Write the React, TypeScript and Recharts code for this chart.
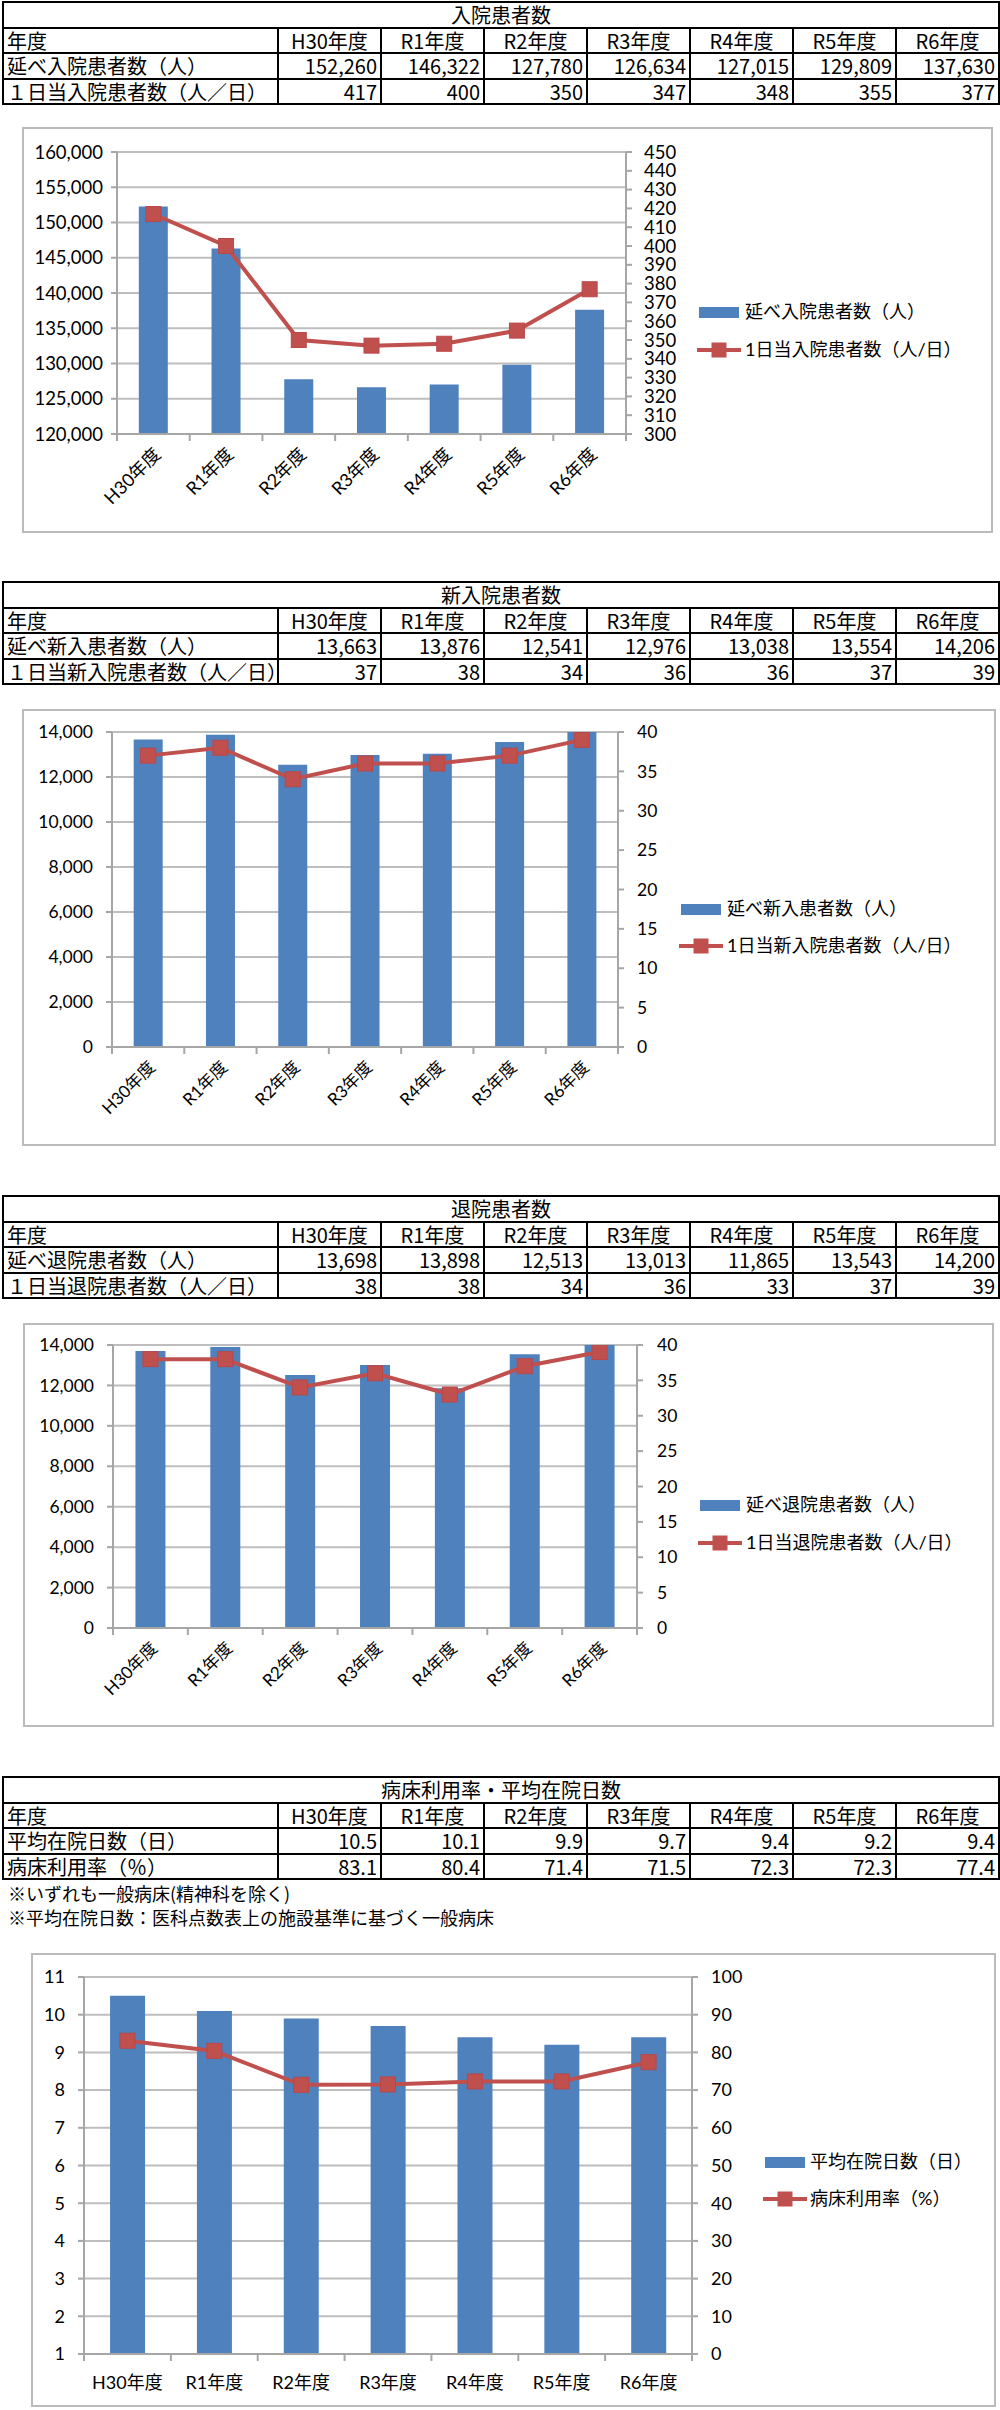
import React from "react";
import { Bar, CartesianGrid, ComposedChart, Line, XAxis, YAxis } from "recharts";

// ---- data ----
const years = ["H30年度", "R1年度", "R2年度", "R3年度", "R4年度", "R5年度", "R6年度"];

const inpatientTotal = [152260, 146322, 127780, 126634, 127015, 129809, 137630];
const inpatientDaily = [417, 400, 350, 347, 348, 355, 377];

const admissionTotal = [13663, 13876, 12541, 12976, 13038, 13554, 14206];
const admissionDaily = [37, 38, 34, 36, 36, 37, 39];

const dischargeTotal = [13698, 13898, 12513, 13013, 11865, 13543, 14200];
const dischargeDaily = [38, 38, 34, 36, 33, 37, 39];

const averageStay = [10.5, 10.1, 9.9, 9.7, 9.4, 9.2, 9.4];
const bedOccupancy = [83.1, 80.4, 71.4, 71.5, 72.3, 72.3, 77.4];

const inpatientLeftTicks = [120000, 125000, 130000, 135000, 140000, 145000, 150000, 155000, 160000];
const inpatientRightTicks = [300, 310, 320, 330, 340, 350, 360, 370, 380, 390, 400, 410, 420, 430, 440, 450];
const countLeftTicks = [0, 2000, 4000, 6000, 8000, 10000, 12000, 14000];
const countRightTicks = [0, 5, 10, 15, 20, 25, 30, 35, 40];
const stayLeftTicks = [1, 2, 3, 4, 5, 6, 7, 8, 9, 10, 11];
const stayRightTicks = [0, 10, 20, 30, 40, 50, 60, 70, 80, 90, 100];

const notes = ["※いずれも一般病床(精神科を除く)", "※平均在院日数：医科点数表上の施設基準に基づく一般病床"];

// ---- styles ----
const BLUE = "#4F81BD";
const RED = "#C0504D";
const GRID = "#BEBEBE";
const AXIS = "#A6A6A6";
const FRAME = "#BBBBBB";
const CJK = "'Noto Sans CJK JP', sans-serif";
const NUM = "Lato, 'Noto Sans CJK JP', sans-serif";

type Rect = { left: number; top: number; right: number; bottom: number };

interface ComboProps {
  box: Rect;
  plot: Rect;
  totals: number[];
  dailies: number[];
  leftDomain: [number, number];
  leftTicks: number[];
  rightDomain: [number, number];
  rightTicks: number[];
  fontSize: number;
  labelSize: number;
  leftGap: number;
  rightGap: number;
  rotate: boolean;
  names: [string, string];
  legend: { x: number; y1: number; y2: number; textX: number };
}

const fmt = (v: number) => v.toLocaleString("en-US");

function SquareDot(props: any) {
  const { cx, cy, index } = props;
  if (cx == null || cy == null) return <g key={`d${index}`} />;
  return <rect key={`d${index}`} x={cx - 7.5} y={cy - 7.5} width={15} height={15} fill={RED} stroke="#B9474A" strokeWidth={1} />;
}

function ComboChart(p: ComboProps) {
  const w = p.box.right - p.box.left;
  const h = p.box.bottom - p.box.top;
  const yl = 50;
  const yr = 60;
  const xh = 40;
  const margin = {
    top: p.plot.top - p.box.top,
    left: p.plot.left - p.box.left - yl,
    right: p.box.right - p.plot.right - yr,
    bottom: p.box.bottom - p.plot.bottom - xh
  };
  const n = years.length;
  const band = (p.plot.right - p.plot.left) / n;
  const axisY = p.plot.bottom - p.box.top;
  const data = years.map((year, i) => ({ year, total: p.totals[i], daily: p.dailies[i] }));

  // ticks sit between categories, like the spreadsheet chart
  const renderTick = (props: any) => {
    const { x, payload, index } = props;
    const last = index === n - 1;
    const ax = x + 4;
    const ay = axisY + 17;
    return (
      <g>
        <line x1={x - band / 2} x2={x - band / 2} y1={axisY} y2={axisY + 7} stroke={AXIS} strokeWidth={2} />
        {last && <line x1={x + band / 2} x2={x + band / 2} y1={axisY} y2={axisY + 7} stroke={AXIS} strokeWidth={2} />}
        {p.rotate ? (
          <text x={ax} y={ay} dy="0.35em" textAnchor="end" transform={`rotate(-45, ${ax}, ${ay})`} fontSize={p.labelSize} fontFamily={NUM} fill="#000">
            {payload.value}
          </text>
        ) : (
          <text x={x} y={axisY + 29} dy="0.35em" textAnchor="middle" fontSize={p.labelSize} fontFamily={NUM} fill="#000">
            {payload.value}
          </text>
        )}
      </g>
    );
  };

  const tickStyle = { fill: "#000", fontSize: p.fontSize, fontFamily: NUM };

  return (
    <>
      <div
        style={{
          position: "absolute",
          left: p.box.left,
          top: p.box.top,
          width: w,
          height: h,
          border: `2px solid ${FRAME}`,
          boxSizing: "border-box"
        }}
      />
      <div style={{ position: "absolute", left: p.box.left, top: p.box.top, width: w, height: h }}>
        <ComposedChart width={w} height={h} data={data} margin={margin} barCategoryGap="30%">
          <CartesianGrid yAxisId="left" vertical={false} stroke={GRID} strokeWidth={2} />
          <XAxis
            dataKey="year"
            height={xh}
            interval={0}
            tickSize={0}
            tickMargin={0}
            tickLine={false}
            axisLine={{ stroke: AXIS, strokeWidth: 2 }}
            tick={renderTick}
          />
          <YAxis
            yAxisId="left"
            orientation="left"
            width={yl}
            domain={p.leftDomain}
            ticks={p.leftTicks}
            interval={0}
            allowDataOverflow
            tickFormatter={fmt}
            tickSize={6}
            tickMargin={p.leftGap}
            axisLine={{ stroke: AXIS, strokeWidth: 2 }}
            tickLine={{ stroke: AXIS, strokeWidth: 2 }}
            tick={tickStyle}
          />
          <YAxis
            yAxisId="right"
            orientation="right"
            width={yr}
            domain={p.rightDomain}
            ticks={p.rightTicks}
            interval={0}
            allowDataOverflow
            tickSize={6}
            tickMargin={p.rightGap}
            axisLine={{ stroke: AXIS, strokeWidth: 2 }}
            tickLine={{ stroke: AXIS, strokeWidth: 2 }}
            tick={tickStyle}
          />
          <Bar yAxisId="left" dataKey="total" name={p.names[0]} fill={BLUE} isAnimationActive={false} />
          <Line
            yAxisId="right"
            dataKey="daily"
            name={p.names[1]}
            type="linear"
            stroke={RED}
            strokeWidth={4}
            dot={SquareDot}
            activeDot={false}
            isAnimationActive={false}
          />
        </ComposedChart>
      </div>
      <LegendBox legend={p.legend} names={p.names} />
    </>
  );
}

function LegendBox({ legend, names }: { legend: ComboProps["legend"]; names: [string, string] }) {
  const text: React.CSSProperties = {
    position: "absolute",
    left: legend.textX,
    fontSize: 18,
    lineHeight: "24px",
    fontFamily: NUM,
    whiteSpace: "nowrap",
    color: "#000"
  };
  return (
    <>
      <div style={{ position: "absolute", left: legend.x, top: legend.y1 - 5.5, width: 40, height: 11, background: BLUE }} />
      <div style={{ ...text, top: legend.y1 - 13 }}>{names[0]}</div>
      <svg style={{ position: "absolute", left: legend.x - 2, top: legend.y2 - 8 }} width={44} height={16}>
        <line x1={0} x2={44} y1={8} y2={8} stroke={RED} strokeWidth={4} />
        <rect x={14.5} y={0.5} width={15} height={15} fill={RED} />
      </svg>
      <div style={{ ...text, top: legend.y2 - 13 }}>{names[1]}</div>
    </>
  );
}

const cellBase: React.CSSProperties = {
  border: "2px solid #000",
  padding: "0 3px",
  lineHeight: "21px",
  fontSize: 20,
  fontFamily: CJK,
  whiteSpace: "nowrap"
};

const labelCell: React.CSSProperties = { ...cellBase, textAlign: "left" };

function DataTable({ top, title, labels, rows }: { top: number; title: string; labels: string[]; rows: string[][] }) {
  return (
    <table
      style={{
        position: "absolute",
        left: 2,
        top,
        width: 996,
        borderCollapse: "collapse",
        tableLayout: "fixed",
        fontFamily: CJK,
        fontSize: 20,
        color: "#000"
      }}
    >
      <colgroup>
        <col style={{ width: 275 }} />
        {years.map((y) => (
          <col key={y} style={{ width: 103 }} />
        ))}
      </colgroup>
      <tbody>
        <tr style={{ height: 25.5 }}>
          <td colSpan={8} style={{ ...cellBase, textAlign: "center" }}>
            {title}
          </td>
        </tr>
        <tr style={{ height: 25.5 }}>
          <td style={labelCell}>年度</td>
          {years.map((y) => (
            <td key={y} style={{ ...cellBase, textAlign: "center" }}>
              {y}
            </td>
          ))}
        </tr>
        {rows.map((r, ri) => (
          <tr key={ri} style={{ height: 25.5 }}>
            <td style={labelCell}>{labels[ri]}</td>
            {r.map((v, i) => (
              <td key={i} style={{ ...cellBase, textAlign: "right" }}>
                {v}
              </td>
            ))}
          </tr>
        ))}
      </tbody>
    </table>
  );
}

export default function App() {
  return (
    <div style={{ position: "absolute", left: 0, top: 0, width: 1000, height: 2410, background: "#fff", overflow: "hidden" }}>
      <DataTable
        top={1}
        title="入院患者数"
        labels={["延べ入院患者数（人）", "１日当入院患者数（人／日）"]}
        rows={[inpatientTotal.map(fmt), inpatientDaily.map(String)]}
      />
      <ComboChart
        box={{ left: 22, top: 127, right: 993, bottom: 533 }}
        plot={{ left: 117, top: 152, right: 626, bottom: 434 }}
        totals={inpatientTotal}
        dailies={inpatientDaily}
        leftDomain={[120000, 160000]}
        leftTicks={inpatientLeftTicks}
        rightDomain={[300, 450]}
        rightTicks={inpatientRightTicks}
        fontSize={18.5}
        labelSize={18}
        leftGap={8}
        rightGap={12}
        rotate
        names={["延べ入院患者数（人）", "1日当入院患者数（人/日）"]}
        legend={{ x: 699, y1: 312, y2: 350, textX: 745 }}
      />

      <DataTable
        top={581}
        title="新入院患者数"
        labels={["延べ新入患者数（人）", "１日当新入院患者数（人／日）"]}
        rows={[admissionTotal.map(fmt), admissionDaily.map(String)]}
      />
      <ComboChart
        box={{ left: 22, top: 709, right: 996, bottom: 1146 }}
        plot={{ left: 112, top: 732, right: 618, bottom: 1047 }}
        totals={admissionTotal}
        dailies={admissionDaily}
        leftDomain={[0, 14000]}
        leftTicks={countLeftTicks}
        rightDomain={[0, 40]}
        rightTicks={countRightTicks}
        fontSize={17.5}
        labelSize={17}
        leftGap={13}
        rightGap={13}
        rotate
        names={["延べ新入患者数（人）", "1日当新入院患者数（人/日）"]}
        legend={{ x: 681, y1: 909, y2: 946, textX: 727 }}
      />

      <DataTable
        top={1195}
        title="退院患者数"
        labels={["延べ退院患者数（人）", "１日当退院患者数（人／日）"]}
        rows={[dischargeTotal.map(fmt), dischargeDaily.map(String)]}
      />
      <ComboChart
        box={{ left: 23, top: 1323, right: 994, bottom: 1727 }}
        plot={{ left: 113, top: 1345, right: 637, bottom: 1628 }}
        totals={dischargeTotal}
        dailies={dischargeDaily}
        leftDomain={[0, 14000]}
        leftTicks={countLeftTicks}
        rightDomain={[0, 40]}
        rightTicks={countRightTicks}
        fontSize={17.5}
        labelSize={17}
        leftGap={13}
        rightGap={14}
        rotate
        names={["延べ退院患者数（人）", "1日当退院患者数（人/日）"]}
        legend={{ x: 700, y1: 1505, y2: 1543, textX: 746 }}
      />

      <DataTable
        top={1776}
        title="病床利用率・平均在院日数"
        labels={["平均在院日数（日）", "病床利用率（％）"]}
        rows={[averageStay.map((v) => v.toFixed(1)), bedOccupancy.map((v) => v.toFixed(1))]}
      />
      {notes.map((t, i) => (
        <div
          key={t}
          style={{
            position: "absolute",
            left: 8,
            top: 1881 + i * 24,
            fontSize: 18,
            lineHeight: "24px",
            fontFamily: CJK,
            whiteSpace: "nowrap",
            color: "#000"
          }}
        >
          {t}
        </div>
      ))}
      <ComboChart
        box={{ left: 31, top: 1953, right: 996, bottom: 2407 }}
        plot={{ left: 84, top: 1977, right: 692, bottom: 2354 }}
        totals={averageStay}
        dailies={bedOccupancy}
        leftDomain={[1, 11]}
        leftTicks={stayLeftTicks}
        rightDomain={[0, 100]}
        rightTicks={stayRightTicks}
        fontSize={18}
        labelSize={18}
        leftGap={13}
        rightGap={13}
        rotate={false}
        names={["平均在院日数（日）", "病床利用率（%）"]}
        legend={{ x: 765, y1: 2162, y2: 2199, textX: 810 }}
      />
    </div>
  );
}
